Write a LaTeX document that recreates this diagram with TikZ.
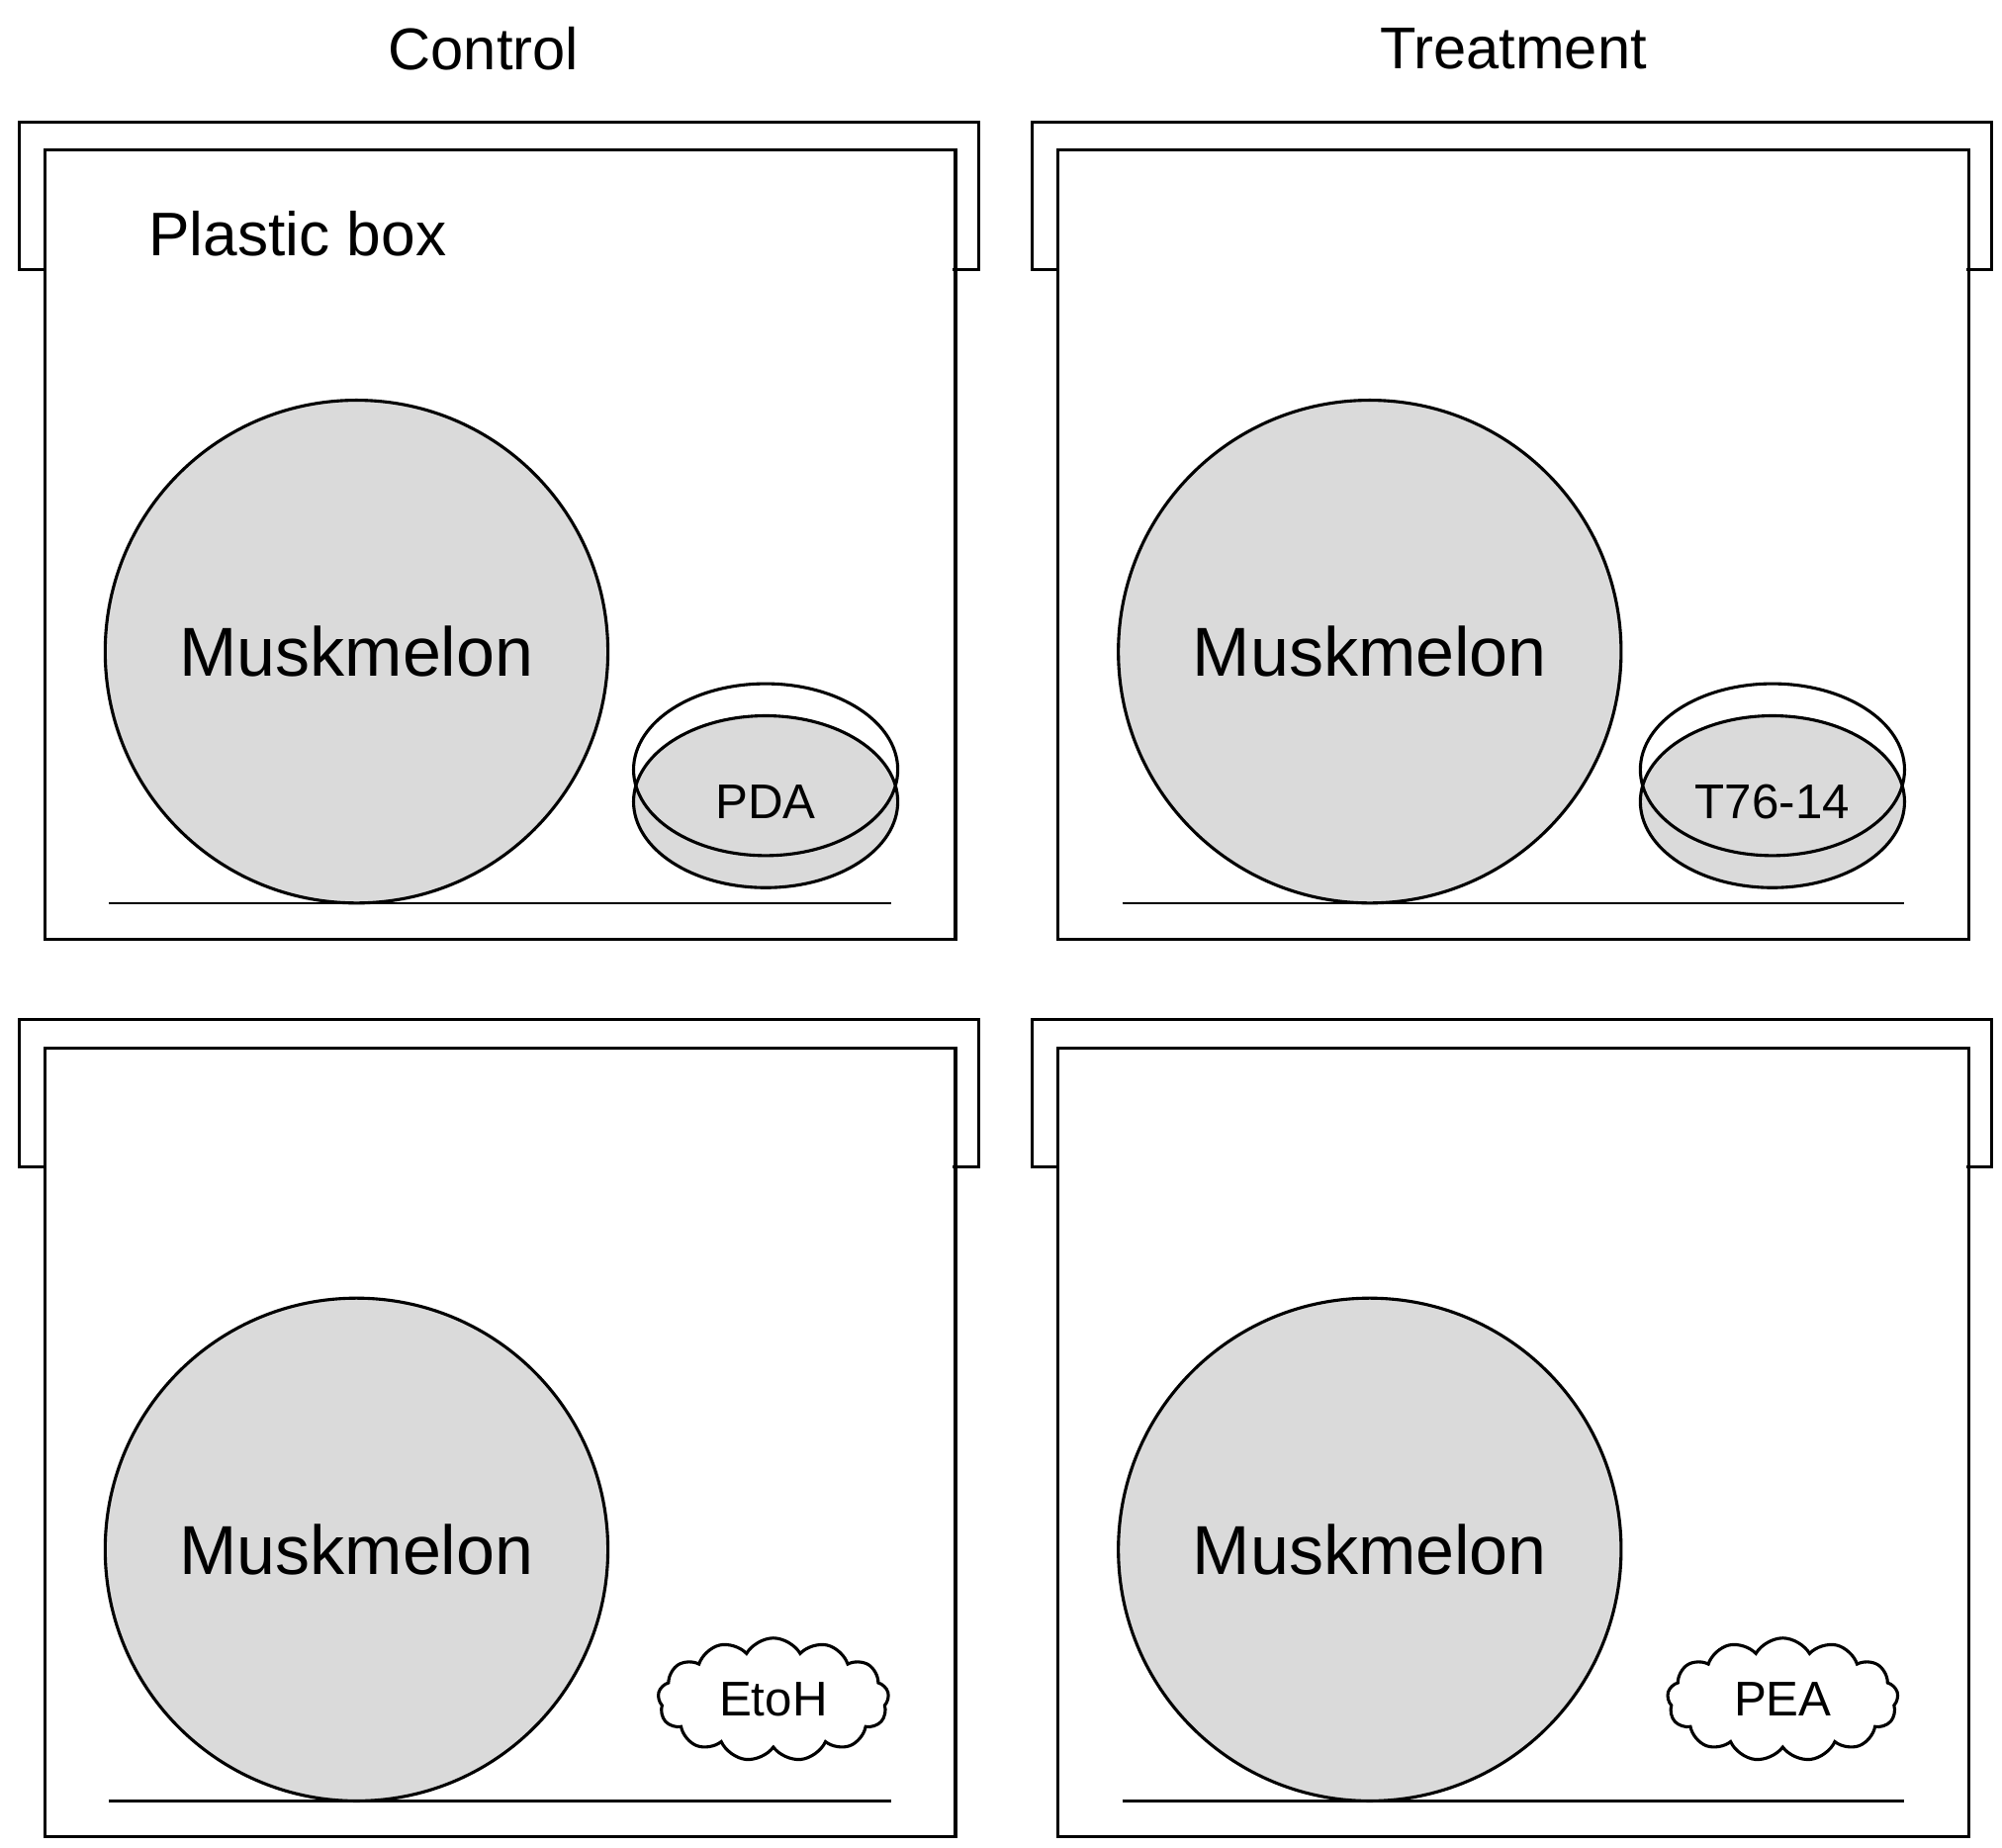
\documentclass[tikz,border=0pt]{standalone}
\usepackage{fontspec}
\setmainfont{Liberation Sans}
\usetikzlibrary{shapes.symbols,shapes.geometric}
\definecolor{melongray}{RGB}{218,218,218}
\tikzset{every picture/.style={line width=1.2pt}}
\tikzset{
  melon/.style={circle, draw, fill=melongray, minimum size=196pt, inner sep=0, font=\fontsize{27}{30}\selectfont},
  dish/.style={ellipse, draw, minimum width=103pt, minimum height=67pt, inner sep=0},
  puff/.style={cloud, cloud puffs=13, cloud puff arc=120, aspect=2, draw, fill=white, minimum width=90pt, minimum height=48pt, inner sep=0, font=\fontsize{19}{22}\selectfont},
  title/.style={font=\fontsize{23}{26}\selectfont}
}
\begin{document}
\begin{tikzpicture}[x=0.5pt,y=0.5pt,yscale=-1,xscale=1]
\useasboundingbox (0,0) rectangle (1561,1440);

% Titles
\node[title] (ctrl) at (377,38) {Control};
\node[title] (trt) at (1180,38) {Treatment};

% Boxes with lids, floors and melons
\foreach \dx/\dy/\nm in {0/0/a, 790/0/b, 0/700/c, 790/700/d}{
  \begin{scope}[shift={(\dx,\dy)}]
    %Lid
    \draw (35,210) -- (15,210) -- (15,95) -- (763,95) -- (763,210) -- (743,210) ;
    %Box
    \draw (35,117) rectangle (745,732) ;
    %Floor
    \draw[line width=0.8pt] (85,704) -- (695,704) ;
    %Melon
    \node[melon] (melon\nm) at (278,508) {Muskmelon};
  \end{scope}
}

% Label
\node[font=\fontsize{24}{27}\selectfont] (plastic) at (232,182) {Plastic box};

% Petri dishes
\node[dish, fill=melongray, font=\fontsize{19}{22}\selectfont] (pda) at (597,625) {PDA};
\draw (597,600) ellipse (103 and 67);
\node[dish, fill=melongray, font=\fontsize{19}{22}\selectfont] (t76) at (1382,625) {T76-14};
\draw (1382,600) ellipse (103 and 67);

% Volatile clouds
\node[puff] (etoh) at (603,1325) {EtoH};
\node[puff] (pea) at (1390,1325) {PEA};

\end{tikzpicture}
\end{document}
